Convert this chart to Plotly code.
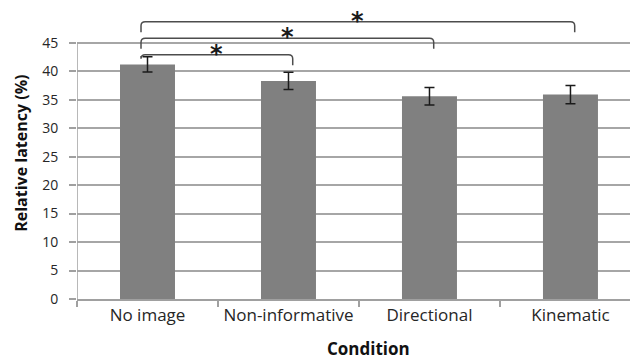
import plotly.graph_objects as go

categories = ["No image", "Non-informative", "Directional", "Kinematic"]
latency = [41.2, 38.3, 35.6, 35.9]
errors = [1.35, 1.5, 1.55, 1.6]
y_ticks = [0, 5, 10, 15, 20, 25, 30, 35, 40, 45]

# significance brackets: (from index, to index, bracket level)
bracket_from = [0, 0, 0]
bracket_to = [1, 2, 3]
bracket_level = [42.9, 45.8, 48.7]

fig = go.Figure()
fig.add_trace(go.Bar(
    x=categories, y=latency, width=0.39,
    marker=dict(color="#808080", line=dict(width=0)),
    error_y=dict(type="data", array=errors, color="#1a1a1a", thickness=1.5, width=5),
    showlegend=False,
))

shapes = []
# y axis line (only up to 45)
shapes.append(dict(type="line", xref="x", yref="y", x0=-0.5, x1=-0.5, y0=0, y1=max(y_ticks),
                   line=dict(color="#a0a0a0", width=1.5), layer="above"))

rx, ry = 0.03, 0.7
drop = 1.85
for a, b, lvl in zip(bracket_from, bracket_to, bracket_level):
    x0 = a - 0.046
    x1 = b + 0.03
    y_left = max(lvl - drop, latency[a] + errors[a] + 0.1)
    y_right = lvl - drop
    path = (f"M {x0},{y_left} L {x0},{lvl - ry} Q {x0},{lvl} {x0 + rx},{lvl} "
            f"L {x1 - rx},{lvl} Q {x1},{lvl} {x1},{lvl - ry} L {x1},{y_right}")
    shapes.append(dict(type="path", xref="x", yref="y", path=path,
                       line=dict(color="#4d4d4d", width=1.5), layer="above"))

annotations = []
for a, b, lvl in zip(bracket_from, bracket_to, bracket_level):
    xm = ((a - 0.046) + (b + 0.03)) / 2
    annotations.append(dict(x=xm, y=lvl, xref="x", yref="y", text="<b>*</b>",
                            showarrow=False, yanchor="bottom", yshift=-15,
                            font=dict(family="DejaVu Sans", size=24, color="#1a1a1a")))

annotations.append(dict(x=0, xref="paper", xshift=-56, y=25.5, yref="y",
                        text="<b>Relative latency (%)</b>", textangle=-90, showarrow=False,
                        xanchor="center", yanchor="middle",
                        font=dict(family="Open Sans", size=16, color="#111111")))
annotations.append(dict(x=(368 - 77) / 561, xref="paper", y=0, yref="paper", yshift=-49,
                        text="<b>Condition</b>", showarrow=False,
                        xanchor="center", yanchor="middle",
                        font=dict(family="Open Sans", size=17, color="#111111")))

fig.update_layout(
    width=630, height=354,
    margin=dict(l=69, r=0, t=0, b=63),
    paper_bgcolor="white", plot_bgcolor="white",
    bargap=0.61,
    shapes=shapes, annotations=annotations,
    xaxis=dict(type="category", range=[-0.5, 3.479], tickson="boundaries",
               ticks="outside", ticklen=6, tickcolor="#a0a0a0", tickwidth=1.5,
               showgrid=False, showline=True, linecolor="#a0a0a0", linewidth=1.5,
               tickfont=dict(family="Open Sans", size=17, color="#262626")),
    yaxis=dict(range=[0, 51.1], tickvals=y_ticks, ticks="outside", ticklen=7,
               tickcolor="#a0a0a0", tickwidth=1.5, ticklabelstandoff=8,
               showgrid=True, gridcolor="#a6a6a6", gridwidth=1.5,
               showline=False, zeroline=False,
               tickfont=dict(family="Open Sans", size=14, color="#262626")),
)

fig.write_html("out.html")
